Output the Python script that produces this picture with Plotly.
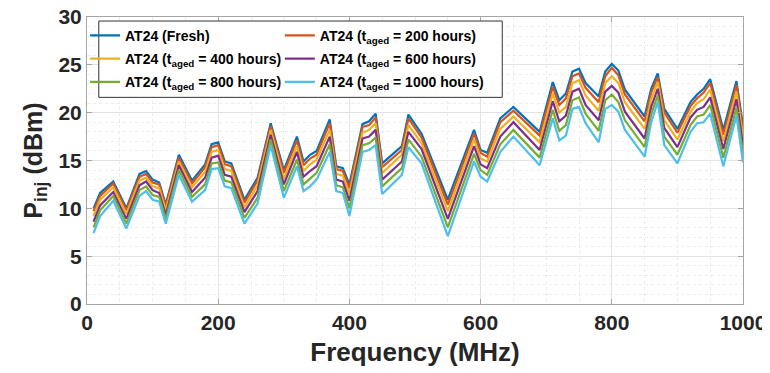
import plotly.graph_objects as go

# frequency points (MHz)
FREQ = [10, 20, 40, 60, 80, 90, 100, 110, 120, 140, 160, 180, 190, 200, 210, 220,
        240, 260, 280, 300, 320, 330, 340, 350, 370, 380, 390, 400, 420, 430, 440,
        450, 480, 490, 510, 550, 590, 600, 610, 630, 650, 690, 710, 720, 730, 740,
        750, 760, 780, 790, 800, 810, 820, 850, 860, 870, 880, 900, 920, 930, 940,
        950, 970, 990, 1000]

# injected power (dBm) per aging state
FRESH = [10.0, 11.6, 12.8, 10.0, 13.6, 13.9, 13.0, 12.7, 10.4, 15.6, 12.9, 14.6, 16.7, 16.9, 14.9, 14.7,
         10.9, 13.2, 18.9, 14.0, 17.5, 14.9, 15.6, 16.0, 19.3, 14.4, 14.2, 12.5, 18.8, 19.1, 19.9,
         14.7, 16.5, 19.8, 17.8, 10.9, 18.2, 16.1, 15.8, 19.4, 20.6, 18.0, 23.2, 21.3, 22.0, 24.3,
         24.6, 23.1, 21.7, 24.3, 25.1, 24.4, 22.4, 19.6, 22.5, 24.1, 20.4, 18.3, 21.1, 21.9, 22.5,
         23.5, 18.2, 23.3, 18.6]
H200 = [9.7, 11.3, 12.6, 9.8, 13.3, 13.6, 12.7, 12.5, 10.2, 15.3, 12.6, 14.3, 16.4, 16.6, 14.6, 14.4,
        10.6, 12.9, 18.6, 13.7, 17.1, 14.5, 15.2, 15.6, 18.9, 14.1, 13.9, 12.1, 18.5, 18.7, 19.5,
        14.3, 16.1, 19.4, 17.4, 10.4, 17.8, 15.8, 15.4, 19.0, 20.2, 17.6, 22.7, 20.8, 21.5, 23.8,
        24.1, 22.6, 21.1, 23.8, 24.7, 23.9, 21.9, 19.1, 22.1, 23.7, 20.0, 17.9, 20.7, 21.5, 22.1,
        23.1, 17.7, 22.9, 18.1]
H400 = [9.2, 10.9, 12.2, 9.4, 12.9, 13.2, 12.3, 12.1, 9.8, 14.9, 12.2, 13.8, 15.9, 16.1, 14.1, 13.9,
        10.1, 12.4, 18.2, 13.1, 16.5, 13.9, 14.6, 15.1, 18.2, 13.6, 13.4, 11.5, 17.9, 18.2, 18.9,
        13.7, 15.6, 18.7, 16.8, 9.7, 17.2, 15.2, 14.9, 18.3, 19.6, 16.9, 22.0, 20.0, 20.6, 23.1,
        23.4, 21.8, 20.2, 23.1, 23.8, 23.1, 21.1, 18.3, 21.4, 23.2, 19.2, 17.2, 20.1, 21.0, 21.4,
        22.4, 17.0, 22.2, 17.4]
H600 = [8.6, 10.3, 11.7, 8.9, 12.4, 12.8, 11.9, 11.6, 9.3, 14.5, 11.7, 13.2, 15.3, 15.5, 13.5, 13.3,
        9.6, 11.8, 17.7, 12.5, 15.9, 13.3, 13.9, 14.4, 17.5, 13.0, 12.8, 10.8, 17.3, 17.5, 18.2,
        13.0, 14.9, 18.0, 16.2, 8.9, 16.5, 14.6, 14.2, 17.5, 19.0, 16.1, 21.2, 19.1, 19.7, 22.2,
        22.5, 20.8, 19.2, 22.2, 22.8, 22.1, 20.1, 17.3, 20.6, 22.5, 18.4, 16.4, 19.5, 20.3, 20.6,
        21.6, 16.2, 21.4, 16.6]
H800 = [8.0, 9.8, 11.3, 8.4, 11.9, 12.3, 11.4, 11.2, 8.9, 14.0, 11.2, 12.5, 14.7, 14.8, 12.9, 12.7,
        9.0, 11.1, 17.2, 11.8, 15.1, 12.5, 13.1, 13.7, 16.7, 12.4, 12.2, 10.0, 16.6, 16.8, 17.4,
        12.3, 14.2, 17.2, 15.4, 8.0, 15.7, 14.0, 13.5, 16.7, 18.2, 15.3, 20.3, 18.1, 18.7, 21.3,
        21.6, 19.9, 18.1, 21.3, 21.9, 21.1, 19.2, 16.4, 19.8, 21.8, 17.5, 15.6, 18.7, 19.6, 19.8,
        20.8, 15.3, 20.5, 15.7]
H1000 = [7.4, 9.2, 10.8, 7.9, 11.3, 11.8, 10.9, 10.7, 8.4, 13.5, 10.7, 11.9, 14.1, 14.2, 12.3, 12.1,
         8.4, 10.5, 16.6, 11.1, 14.4, 11.8, 12.3, 13.0, 15.9, 11.8, 11.6, 9.2, 15.9, 16.1, 16.6,
         11.5, 13.5, 16.4, 14.7, 7.1, 14.9, 13.3, 12.8, 15.9, 17.5, 14.5, 19.4, 17.1, 17.6, 20.4,
         20.6, 18.9, 16.9, 20.4, 20.8, 20.1, 18.2, 15.4, 19.0, 21.1, 16.6, 14.7, 18.0, 18.9, 19.0,
         19.9, 14.4, 19.7, 14.8]

SERIES = [
    ("AT24 (Fresh)", FRESH, "#0072BD", "legend"),
    ("AT24 (t<sub>aged</sub> = 200 hours)", H200, "#D95319", "legend2"),
    ("AT24 (t<sub>aged</sub> = 400 hours)", H400, "#EDB120", "legend"),
    ("AT24 (t<sub>aged</sub> = 600 hours)", H600, "#7E2F8E", "legend2"),
    ("AT24 (t<sub>aged</sub> = 800 hours)", H800, "#77AC30", "legend"),
    ("AT24 (t<sub>aged</sub> = 1000 hours)", H1000, "#4DBEEE", "legend2"),
]

FONT = "Liberation Sans, Arial, sans-serif"
TXT = "#262626"

fig = go.Figure()
for name, vals, color, leg in SERIES:
    fig.add_trace(go.Scatter(
        x=FREQ, y=vals, name=name, mode="lines",
        line=dict(color=color, width=2.2),
        legend=leg, legendgroup=name,
    ))

# legend frame (two side-by-side legends share one box)
fig.add_shape(type="rect", xref="paper", yref="paper",
              x0=0.018, x1=0.633, y0=0.72, y1=0.986,
              fillcolor="white", line=dict(color="#333333", width=1), layer="above")

axis_common = dict(
    showline=True, linecolor="#a6a6a6", linewidth=1, mirror="ticks",
    ticks="inside", ticklen=5, tickcolor="#a6a6a6",
    showgrid=True, gridcolor="#e3e3e3", gridwidth=1,
    zeroline=False, automargin=False, ticklabeloverflow="allow",
    tickfont=dict(family=FONT, size=21, color=TXT, weight="bold"),
)

legend_font = dict(family=FONT, size=14, color="black", weight="bold")

# page body adds an 8px offset, margins compensate for it
fig.update_layout(
    width=770, height=373,
    margin=dict(l=79, r=35, t=9, b=77),
    paper_bgcolor="white", plot_bgcolor="white",
    xaxis=dict(range=[0, 1000], dtick=200, tick0=0,
               minor=dict(dtick=50, showgrid=True, gridcolor="#ececec", griddash="dot", ticks=""),
               title=dict(text="Frequency (MHz)", standoff=9,
                          font=dict(family=FONT, size=26, color=TXT, weight="bold")),
               **axis_common),
    yaxis=dict(range=[0, 30], dtick=5, tick0=0,
               minor=dict(dtick=1, showgrid=True, gridcolor="#ececec", griddash="dot", ticks=""),
               title=dict(text="P<sub>inj</sub> (dBm)", standoff=8,
                          font=dict(family=FONT, size=25, color=TXT, weight="bold")),
               **axis_common),
    legend=dict(x=-0.003, y=0.99, xanchor="left", yanchor="top",
                bgcolor="rgba(0,0,0,0)", borderwidth=0, font=legend_font,
                tracegroupgap=2),
    legend2=dict(x=0.294, y=0.99, xanchor="left", yanchor="top",
                 bgcolor="rgba(0,0,0,0)", borderwidth=0, font=legend_font,
                 tracegroupgap=2),
)

fig.write_html("out.html")
